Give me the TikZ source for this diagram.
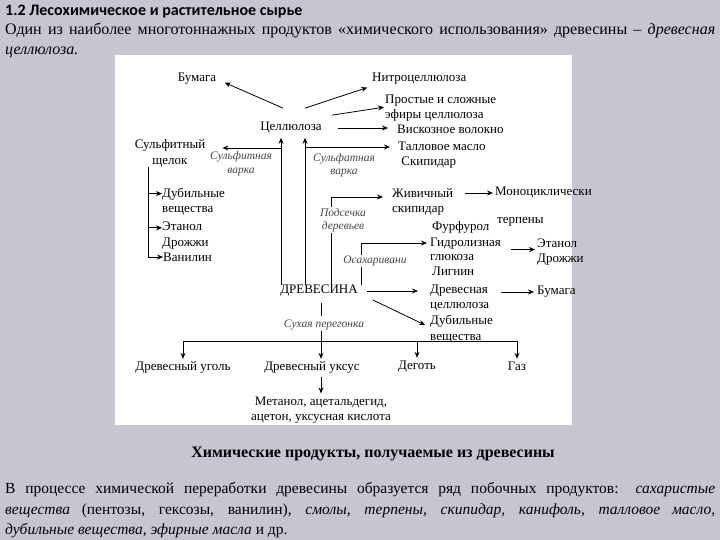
\documentclass[tikz,border=0pt]{standalone}
\usepackage{fontspec}
\setmainfont{Liberation Serif}
\newfontfamily\headfont{Carlito}
\usepackage{xcolor}
\usetikzlibrary{arrows.meta}

\definecolor{slidebg}{RGB}{201,196,210}
\definecolor{procgray}{RGB}{70,70,70}

\begin{document}
\begin{tikzpicture}[x=1pt,y=-1pt,>={Stealth[length=6pt,width=5pt]},
  txt/.style={inner sep=0pt,align=left,font=\fontsize{13}{15.5}\selectfont},
  rowtxt/.style={txt,text height=9pt,text depth=3pt},
  proc/.style={inner sep=1pt,fill=white,align=center,text=procgray,
    font=\fontsize{11.5}{13.5}\selectfont\itshape},
  arr/.style={->,line width=0.8pt},
  ln/.style={line width=0.8pt}]

\useasboundingbox (0,0) rectangle (720,540);
\fill[slidebg] (0,0) rectangle (720,540);

% ---------- heading ----------
\node[anchor=base west,inner sep=0pt,font=\headfont\bfseries\fontsize{16}{19}\selectfont] (head) at (5,16) {1.2 Лесохимическое и растительное сырье};
\node[anchor=base west,inner sep=0pt,font=\fontsize{16}{19}\selectfont] (intro) at (5,35)
  {\makebox[710pt][s]{Один из наиболее многотоннажных продуктов «химического использования» древесины – \textit{древесная}}};
\node[anchor=base west,inner sep=0pt,font=\fontsize{16}{19}\selectfont\itshape] (intro2) at (5,55) {целлюлоза.};

% ---------- scheme ----------
\fill[white] (115,55) rectangle (572,425);

% cellulose group
\node[txt] (cell) at (291,128) {Целлюлоза};
\node[txt] (bum1) at (197,79) {Бумага};
\node[txt,anchor=west] (nitro) at (372,79) {Нитроцеллюлоза};
\node[txt,anchor=west] (efir) at (385,108) {Простые и сложные\\эфиры целлюлоза};
\node[txt,anchor=west] (visk) at (397,129) {Вискозное волокно};
\node[txt,anchor=west] (tall) at (398,155) {Талловое масло\\\ Скипидар};

% sulfite liquor
\node[txt,align=center] (sulf) at (170,153.5) {Сульфитный\\щелок};
\node[txt,anchor=west] (dub1) at (162,201.5) {Дубильные\\вещества};
\node[txt,anchor=west] (etan1) at (162,235.5) {Этанол\\Дрожжи};
\node[txt,anchor=west] (van) at (163,257) {Ванилин};

% right column
\node[txt,anchor=west] (zhiv) at (392,202) {Живичный\\скипидар};
\node[txt,anchor=west] (mono) at (495,193) {Моноциклически};
\node[txt,anchor=west] (terp) at (497,222) {терпены};
\node[txt,anchor=west] (furf) at (432,227) {Фурфурол};
\node[txt,anchor=west,font=\fontsize{13}{14}\selectfont] (gidro) at (430,249.5) {Гидролизная\\глюкоза};
\node[txt,anchor=west] (lign) at (432,271) {Лигнин};
\node[txt,anchor=west] (etan2) at (537,252) {Этанол\\Дрожжи};
\node[txt,anchor=west] (drcell) at (430,298) {Древесная\\целлюлоза};
\node[txt,anchor=west] (bum2) at (537,292) {Бумага};
\node[txt,anchor=west] (dub2) at (430,329) {Дубильные\\вещества};

% wood and dry distillation
\node[txt] (drev) at (319,291) {ДРЕВЕСИНА};
\node[rowtxt] (ugol) at (183,367) {Древесный уголь};
\node[rowtxt] (uksus) at (312,367) {Древесный уксус};
\node[rowtxt] (degot) at (417,366) {Деготь};
\node[rowtxt] (gaz) at (517,367) {Газ};
\node[txt,align=center] (metanol) at (321,410) {Метанол, ацетальдегид,\\ацетон, уксусная кислота};

% process labels
\node[proc] (sulfit) at (241,163.5) {Сульфитная\\варка};
\node[proc] (sulfat) at (344,165) {Сульфатная\\варка};
\node[proc] (podsech) at (343,220) {Подсечка\\деревьев};
\node[proc] (osach) at (375,261) {Осахаривани};
\node[proc] (sukh) at (324,325) {Сухая перегонка};

\coordinate (jA) at (281,148);
\coordinate (jB) at (305,147);
\coordinate (jC) at (331,197);
\coordinate (jD) at (361,243);
\coordinate (jE) at (321,341);
\coordinate (jS) at (148,257);

% from cellulose
\draw[arr,shorten >=9pt] ([shift={(-8,-14)}]cell.north) -- (bum1.east);
\draw[arr,shorten >=5pt] ([shift={(14,-14)}]cell.north) -- ([yshift=-7pt]nitro.west);
\draw[arr,shorten >=1pt] ([shift={(41,-7)}]cell.north) -- ([yshift=1pt]efir.west);
\draw[arr,shorten <=16pt,shorten >=9pt] (cell.east) -- (cell.east -| visk.west);

% from wood upwards
\draw[arr,shorten >=4pt] (drev.north -| jA) -- (cell.south -| jA);
\draw[arr,shorten >=17pt] (jA) -- (jA -| sulf.east);
\draw[arr,shorten >=4pt] (drev.north -| jB) -- (cell.south -| jB);
\draw[arr,shorten >=8pt] (jB) -- (jB -| tall.west);
\draw[ln] (drev.north -| jC) -- (podsech.south -| jC);
\draw[arr,shorten >=9pt] (podsech.north -| jC) -- (jC) -- (jC -| zhiv.west);
\draw[ln] (drev.north -| jD) -- (osach.south -| jD);
\draw[arr,shorten >=3pt] (osach.north -| jD) -- (jD) -- (jD -| gidro.west);

% sulfite liquor branch
\draw[ln] (sulf.south -| jS) -- (jS);
\draw[arr] ([yshift=-6pt]dub1.north west -| jS) -- ([yshift=-6pt]dub1.north west);
\draw[arr] ([yshift=-6pt]etan1.north west -| jS) -- ([yshift=-6pt]etan1.north west);
\draw[arr] (jS) -- (van.west);

% right side
\draw[arr,shorten <=12pt,shorten >=2pt] (zhiv.east |- mono.west) -- (mono.west);
\draw[arr,shorten <=10pt,shorten >=2pt] (gidro.east) -- (gidro.east -| etan2.west);
\draw[arr,shorten <=12pt,shorten >=3pt] (drcell.east |- bum2.west) -- (bum2.west);
\draw[arr,shorten <=9pt,shorten >=12pt] (drev.east) -- (drev.east -| drcell.west);
\draw[arr] ([shift={(15,9)}]drev.east) -- ([shift={(-5,-4)}]dub2.west);

% dry distillation
\draw[ln,shorten <=6pt,shorten >=3pt] (drev.south -| jE) -- (sukh.north -| jE);
\draw[ln] (sukh.south -| jE) -- (jE);
\draw[ln] (ugol.north |- jE) -- (gaz.north |- jE);
\foreach \n in {ugol,degot,gaz}
  \draw[arr,shorten >=2pt] (\n.north |- jE) -- (\n.north);
\draw[arr,shorten >=2pt] (jE) -- (jE |- uksus.north);
\draw[arr,shorten <=4pt,shorten >=3pt] (uksus.south -| jE) -- (metanol.north -| jE);

% ---------- caption and text ----------
\node[inner sep=0pt,font=\bfseries\fontsize{16}{19}\selectfont] (capt) at (373,454) {Химические продукты, получаемые из древесины};
\node[anchor=base west,inner sep=0pt,font=\fontsize{15.5}{20}\selectfont] (par1) at (5,493)
  {\makebox[710pt][s]{В процессе химической переработки древесины образуется ряд побочных продуктов: \textit{сахаристые}}};
\node[anchor=base west,inner sep=0pt,font=\fontsize{15.5}{20}\selectfont] (par2) at (5,514)
  {\makebox[710pt][s]{\textit{вещества} (пентозы, гексозы, ванилин), \textit{смолы, терпены, скипидар, канифоль, талловое масло,}}};
\node[anchor=base west,inner sep=0pt,font=\fontsize{15.5}{20}\selectfont] (par3) at (5,534)
  {\textit{дубильные вещества, эфирные масла} и др.};

\end{tikzpicture}
\end{document}
